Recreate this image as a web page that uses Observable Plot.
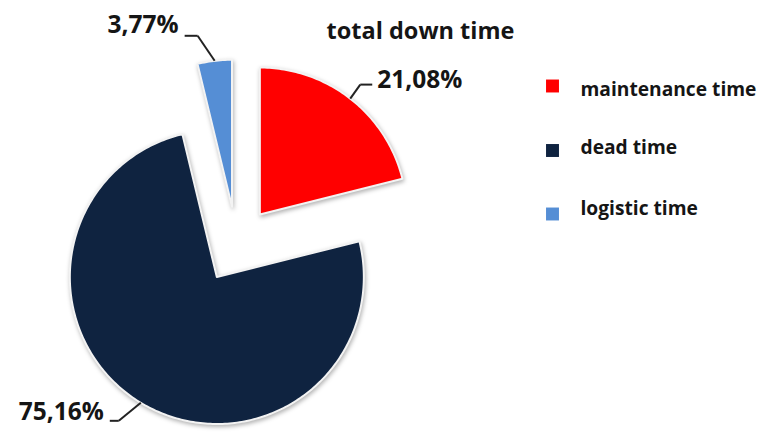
<!DOCTYPE html>
<html>
<head>
<meta charset="utf-8">
<script src="https://cdn.jsdelivr.net/npm/d3@7"></script>
<script src="https://cdn.jsdelivr.net/npm/@observablehq/plot@0.6"></script>
<style>
  html, body { margin: 0; padding: 0; background: #fff; }
  svg g[aria-label="line"] { filter: drop-shadow(1px 2px 2px rgba(0,0,0,0.30)); }
</style>
</head>
<body>
<div id="chart"></div>
<script>
// ---- data ----
const title = "total down time";
const categories = ["maintenance time", "dead time", "logistic time"];
const values = [21.08, 75.16, 3.77];
const valueLabels = ["21,08%", "75,16%", "3,77%"];
const colors = ["#FF0000", "#0F2340", "#558ED5"];

// ---- layout (not data) ----
const W = 761, H = 432;
const cx = 236, cy = 244, R = 147, explode = 38;
// per-slice label layout: elbow offset from arc midpoint, horizontal run, text baseline offset
const labelLayout = [
  {ex: 10, ey: -14, hx: 12, tdy: 3},
  {ex: -22, ey: 18, hx: -9, tdy: -1},
  {ex: -17, ey: -25, hx: -13, tdy: -3}
];
const legendX = 552, legendTextX = 580;
const legendSquareY = [85.5, 150, 213.5];
const legendTextY = [95, 153, 214];

const rows = categories.map((name, i) => ({name, value: values[i], label: valueLabels[i]}));
const arcs = d3.pie().sort(null).value(d => d.value)(rows);

// slice outlines (vertex + arc) computed from pie angles
const slicePts = [];
const labels = [];
const leaders = [];
arcs.forEach((a, i) => {
  const mid = (a.startAngle + a.endAngle) / 2;
  const ox = cx + explode * Math.sin(mid), oy = cy - explode * Math.cos(mid);
  slicePts.push({name: a.data.name, x: ox, y: oy});
  const n = Math.max(4, Math.ceil((a.endAngle - a.startAngle) * 60));
  for (let k = 0; k <= n; k++) {
    const t = a.startAngle + (a.endAngle - a.startAngle) * k / n;
    slicePts.push({name: a.data.name, x: ox + R * Math.sin(t), y: oy - R * Math.cos(t)});
  }
  const L = labelLayout[i];
  const sx = ox + R * Math.sin(mid), sy = oy - R * Math.cos(mid);
  const exx = sx + L.ex, eyy = sy + L.ey;
  const hx = exx + L.hx;
  leaders.push({x1: sx, y1: sy, x2: exx, y2: eyy});
  leaders.push({x1: exx, y1: eyy, x2: hx, y2: eyy});
  labels.push({
    text: a.data.label,
    x: L.hx > 0 ? hx + 5 : hx - 6,
    y: eyy + L.tdy,
    anchor: L.hx > 0 ? "start" : "end"
  });
});

const legendRows = categories.map((name, i) => ({name, sy: legendSquareY[i], ty: legendTextY[i]}));

const chart = Plot.plot({
  width: W,
  height: H,
  margin: 0,
  x: {type: "linear", domain: [0, W], range: [0, W], axis: null},
  y: {type: "linear", domain: [0, H], range: [0, H], axis: null},
  color: {domain: categories, range: colors},
  style: {background: "#fff", fontFamily: "'Open Sans', sans-serif"},
  marks: [
    Plot.line(slicePts, {x: "x", y: "y", z: "name", fill: "name", stroke: "#f3f3f3", strokeWidth: 2, curve: "linear-closed"}),
    Plot.link(leaders, {x1: "x1", y1: "y1", x2: "x2", y2: "y2", stroke: "#222", strokeWidth: 2}),
    Plot.text(labels.filter(d => d.anchor === "start"), {x: "x", y: "y", text: "text", textAnchor: "start", lineAnchor: "bottom", fontSize: 24.5, fontWeight: "bold", fill: "#151515"}),
    Plot.text(labels.filter(d => d.anchor === "end"), {x: "x", y: "y", text: "text", textAnchor: "end", lineAnchor: "bottom", fontSize: 24.5, fontWeight: "bold", fill: "#151515"}),
    Plot.text([title], {x: () => 420, y: () => 38, text: d => d, textAnchor: "middle", lineAnchor: "bottom", fontSize: 23.5, fontWeight: "bold", fill: "#151515"}),
    Plot.dot(legendRows, {x: () => legendX, y: "sy", symbol: "square", r: 7.3, fill: "name", stroke: "none"}),
    Plot.text(legendRows, {x: () => legendTextX, y: "ty", text: "name", textAnchor: "start", lineAnchor: "bottom", fontSize: 19.2, fontWeight: "bold", fill: "#151515"})
  ]
});
document.getElementById("chart").appendChild(chart);
</script>
</body>
</html>
